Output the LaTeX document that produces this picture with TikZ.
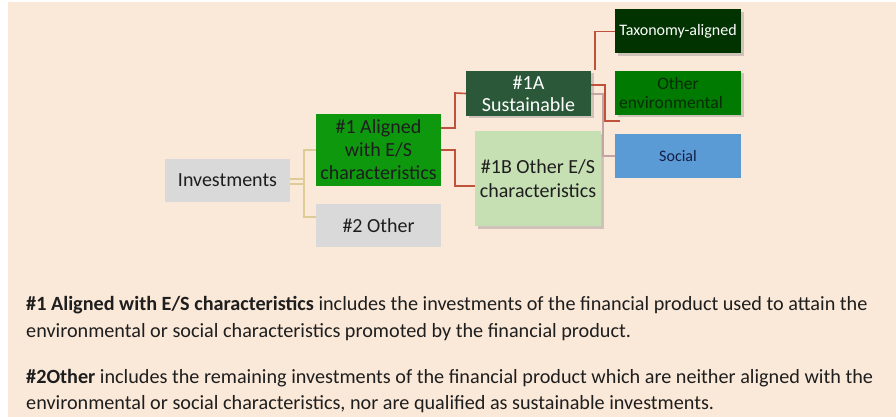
\documentclass[tikz,border=0pt]{standalone}
\usepackage{fontspec}
\setmainfont{Carlito}
\usetikzlibrary{shadows}
\definecolor{bg}{RGB}{250,232,216}
\definecolor{boxgray}{RGB}{217,217,217}
\definecolor{green1}{RGB}{14,152,14}
\definecolor{darkg}{RGB}{42,88,56}
\definecolor{lightg}{RGB}{198,224,180}
\definecolor{taxg}{RGB}{1,51,1}
\definecolor{envg}{RGB}{0,122,0}
\definecolor{envt}{RGB}{8,45,8}
\definecolor{socb}{RGB}{91,155,213}
\definecolor{soct}{RGB}{20,30,70}
\definecolor{redl}{RGB}{190,82,58}
\definecolor{tanl}{RGB}{222,204,150}
\definecolor{greyl}{RGB}{195,165,165}
\definecolor{txt}{RGB}{30,30,30}
\tikzset{
  box/.style={rectangle, inner sep=1pt, align=center, text=txt, font=\fontsize{20}{24}\selectfont},
  shad/.style={drop shadow={opacity=0.35, shadow xshift=2.5pt, shadow yshift=-2.5pt}},
  smallbox/.style={box, minimum width=126pt, minimum height=44pt, font=\fontsize{16}{18}\selectfont},
  redline/.style={draw=redl, line width=1.6pt},
  tanline/.style={draw=tanl, line width=1.2pt},
  greyline/.style={draw=greyl, line width=1.2pt},
  body/.style={anchor=west, inner sep=0pt, text=txt, font=\fontsize{20.2}{22}\selectfont}
}
\begin{document}
\begin{tikzpicture}[x=1pt,y=-1pt]
\useasboundingbox (0,0) rectangle (896,417);
\fill[white] (0,0) rectangle (896,417);
\fill[bg] (8,2) rectangle (896,417);
% nodes
\node[box, fill=boxgray, minimum width=125pt, minimum height=43pt] (inv) at (227.5,180.5) {Investments};
\node[box, fill=green1, minimum width=125pt, minimum height=72pt] (al) at (378.5,150) {\#1 Aligned\\[-1pt]with E/S\\[-1pt]characteristics};
\node[box, fill=boxgray, minimum width=125pt, minimum height=43pt] (oth) at (378.5,225.5) {\#2 Other};
\node[box, shad, fill=darkg, text=white, minimum width=125pt, minimum height=45pt] (sus) at (528.5,93.5) {\#1A\\[-2pt]Sustainable};
\node[box, shad, fill=lightg, minimum width=126pt, minimum height=95pt] (oes) at (538,178.5) {\#1B Other E/S\\characteristics};
\node[smallbox, shad, fill=taxg, text=white] (tax) at (678,31.5) {Taxonomy-aligned};
\node[smallbox, shad, fill=envg, text=envt, font=\fontsize{17.5}{19}\selectfont] (env) at (678,93) {Other\\environmental\hspace*{14pt}};
\node[smallbox, fill=socb, text=soct] (soc) at (678,156) {Social};
% connectors
\coordinate (jx) at (304,0);
\draw[tanline] (inv.east |- 0,179) -- (jx |- 0,179);
\draw[tanline] (inv.east |- 0,184) -- (jx |- 0,184);
\draw[tanline] (al.west |- 0,150) -| (jx |- 0,217) -- (oth.west |- 0,217);
\coordinate (jr) at (455,0);
\draw[redline] (al.east |- 0,128) -| (jr |- 0,93) -- (sus.west);
\draw[redline] (al.east |- 0,150) -| (jr |- 0,186) -- (oes.west |- 0,186);
\coordinate (s1) at (595,70);
\draw[redline] (s1) -- (s1 |- tax.west) -- (tax.west);
\coordinate (e1) at (605,121);
\draw[redline] (sus.east |- 0,85) -| (e1) -- (620,121);
\coordinate (g1) at (603,0);
\draw[greyline] (sus.east |- 0,94) -| (g1 |- soc.west) -- (soc.west);
% body text
\node[body] (t1) at (26,305) {\textbf{\#1 Aligned with E/S characteristics} includes the investments of the financial product used to attain the};
\node[body] (t2) at (26,332) {environmental or social characteristics promoted by the financial product.};
\node[body] (t3) at (26,378) {\textbf{\#2Other} includes the remaining investments of the financial product which are neither aligned with the};
\node[body] (t4) at (26,404) {environmental or social characteristics, nor are qualified as sustainable investments.};
\end{tikzpicture}
\end{document}
